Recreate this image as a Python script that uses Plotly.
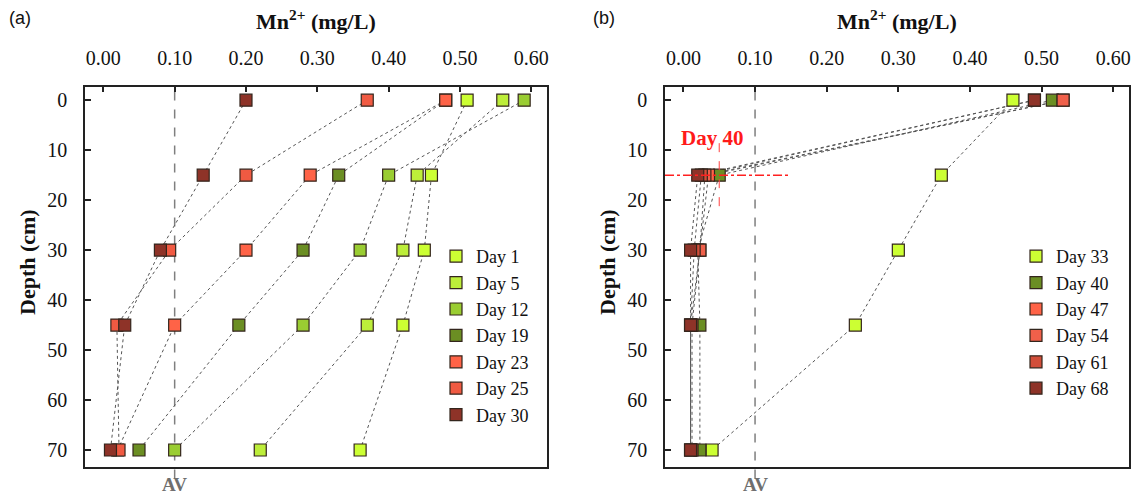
import plotly.graph_objects as go

# ---------------- data ----------------
depths = [0, 15, 30, 45, 70]

# panel (a)
days_a = ["Day 1", "Day 5", "Day 12", "Day 19", "Day 23", "Day 25", "Day 30"]
day1 = [0.51, 0.46, 0.45, 0.42, 0.36]
day5 = [0.56, 0.44, 0.42, 0.37, 0.22]
day12 = [0.59, 0.40, 0.36, 0.28, 0.10]
day19 = [0.48, 0.33, 0.28, 0.19, 0.05]
day23 = [0.48, 0.29, 0.20, 0.10, 0.02]
day25 = [0.37, 0.20, 0.093, 0.019, 0.022]
day30 = [0.20, 0.14, 0.08, 0.03, 0.01]
values_a = [day1, day5, day12, day19, day23, day25, day30]
colors_a = ["#CCFF33", "#BDEE3A", "#9ACD32", "#6B8E23", "#FF6347", "#F05A42", "#8E3328"]

# panel (b)
days_b = ["Day 33", "Day 40", "Day 47", "Day 54", "Day 61", "Day 68"]
day33 = [0.46, 0.36, 0.30, 0.24, 0.04]
day40 = [0.515, 0.05, 0.02, 0.023, 0.023]
day47 = [0.53, 0.035, 0.023, 0.012, 0.012]
day54 = [0.53, 0.03, 0.023, 0.01, 0.01]
day61 = [0.49, 0.025, 0.015, 0.01, 0.01]
day68 = [0.49, 0.02, 0.01, 0.01, 0.01]
values_b = [day33, day40, day47, day54, day61, day68]
colors_b = ["#CCFF33", "#6B8E23", "#FF6347", "#F0604A", "#D24E3A", "#8E3328"]

av_value = 0.10
day40_point = (0.05, 15)

x_ticks = [0.0, 0.1, 0.2, 0.3, 0.4, 0.5, 0.6]
y_ticks = [0, 10, 20, 30, 40, 50, 60, 70]

W, H = 1139, 497
SERIF = "Liberation Serif"
SANS = "Liberation Sans"

fig = go.Figure()

def add_panel(names, vals, cols, xa, ya, legend):
    # dotted connecting lines first (below all markers)
    for n, v in zip(names, vals):
        fig.add_trace(go.Scatter(
            x=v, y=depths, mode="lines", xaxis=xa, yaxis=ya, showlegend=False,
            hoverinfo="skip", line=dict(color="#555555", width=1, dash="dot"),
        ))
    for n, v, c in zip(names, vals, cols):
        fig.add_trace(go.Scatter(
            x=v, y=depths, name=n, mode="markers",
            xaxis=xa, yaxis=ya, legend=legend,
            marker=dict(symbol="square", size=12, color=c,
                        line=dict(color="#33251c", width=1.2)),
        ))

add_panel(days_a, values_a, colors_a, "x", "y", "legend")
add_panel(days_b, values_b, colors_b, "x2", "y2", "legend2")

# geometry (paper)
dom_a = [85 / W, 547 / W]
dom_b = [665 / W, 1129 / W]
dom_y = [1 - 467 / H, 1 - 86.7 / H]
xrange = [-0.0257, 0.622]
yrange = [73.4, -2.7]

axis_common = dict(showline=True, linecolor="#222222", linewidth=1.5, mirror=True,
                   ticks="inside", ticklen=6, tickwidth=1.5, tickcolor="#222222",
                   showgrid=False, zeroline=False, automargin=False,
                   tickfont=dict(family=SERIF, size=20, color="#111111"))

legend_font = dict(family=SERIF, size=18, color="#111111")
fig.update_layout(
    width=W, height=H, margin=dict(l=0, r=0, t=0, b=0),
    paper_bgcolor="white", plot_bgcolor="white",
    xaxis=dict(domain=dom_a, range=xrange, side="top", anchor="y",
               tickvals=x_ticks, tickformat=".2f", ticklabelstandoff=12, **axis_common),
    yaxis=dict(domain=dom_y, range=yrange, anchor="x", tickvals=y_ticks,
               ticklabelstandoff=12, **axis_common),
    xaxis2=dict(domain=dom_b, range=xrange, side="top", anchor="y2",
                tickvals=x_ticks, tickformat=".2f", ticklabelstandoff=12, **axis_common),
    yaxis2=dict(domain=dom_y, range=yrange, anchor="x2", tickvals=y_ticks,
                ticklabelstandoff=12, **axis_common),
    legend=dict(x=436 / W, y=1 - 238 / H, xanchor="left", yanchor="top",
                bgcolor="rgba(0,0,0,0)", itemwidth=30, font=legend_font),
    legend2=dict(x=1016 / W, y=1 - 238 / H, xanchor="left", yanchor="top",
                 bgcolor="rgba(0,0,0,0)", itemwidth=30, font=legend_font),
    showlegend=True,
)

# AV dashed lines
for xr in ["x", "x2"]:
    yr = "y domain" if xr == "x" else "y2 domain"
    fig.add_shape(type="line", xref=xr, yref=yr, x0=av_value, x1=av_value, y0=-0.03, y1=1,
                  line=dict(color="#7f7f7f", width=1.5, dash="dash"), layer="below")

# Day 40 crosshair in panel (b)
fig.add_shape(type="line", xref="x2", yref="y2", x0=xrange[0], x1=0.146,
              y0=day40_point[1], y1=day40_point[1],
              line=dict(color="#FF2020", width=1.5, dash="dashdot"))
fig.add_shape(type="line", xref="x2", yref="y2", x0=day40_point[0], x1=day40_point[0],
              y0=8.6, y1=22, line=dict(color="#FF4040", width=1, dash="dash"))

annotations = [
    dict(text="<b>Day 40</b>", xref="x2", yref="y2", x=0.04, y=7.5, showarrow=False,
         xanchor="center", yanchor="middle",
         font=dict(family=SERIF, size=21, color="#FF1A1A")),
    dict(text="(a)", xref="paper", yref="paper", x=20 / W, y=1 - 18 / H, showarrow=False,
         xanchor="center", yanchor="middle",
         font=dict(family=SANS, size=18, color="#111111")),
    dict(text="(b)", xref="paper", yref="paper", x=604 / W, y=1 - 18 / H, showarrow=False,
         xanchor="center", yanchor="middle",
         font=dict(family=SANS, size=18, color="#111111")),
]
for cx, px in [((dom_a[0] + dom_a[1]) / 2, 27), ((dom_b[0] + dom_b[1]) / 2, 607)]:
    annotations.append(dict(text="<b>Mn<sup>2+</sup> (mg/L)</b>", xref="paper", yref="paper",
                            x=cx, y=1 - 20 / H, showarrow=False,
                            xanchor="center", yanchor="middle",
                            font=dict(family=SERIF, size=22, color="#111111")))
    annotations.append(dict(text="<b>Depth (cm)</b>", xref="paper", yref="paper",
                            x=px / W, y=1 - 262 / H, showarrow=False, textangle=-90,
                            xanchor="center", yanchor="middle",
                            font=dict(family=SERIF, size=22, color="#111111")))
for xr in ["x", "x2"]:
    annotations.append(dict(text="<b>AV</b>", xref=xr, yref="paper", x=av_value,
                            y=1 - 484 / H, showarrow=False,
                            xanchor="center", yanchor="middle",
                            font=dict(family=SERIF, size=19, color="#6f6f6f")))
fig.update_layout(annotations=annotations)

fig.write_html("out.html", config={"displayModeBar": False},
               post_script="document.body.style.margin='0px';"
                           "document.documentElement.style.overflow='hidden';")
